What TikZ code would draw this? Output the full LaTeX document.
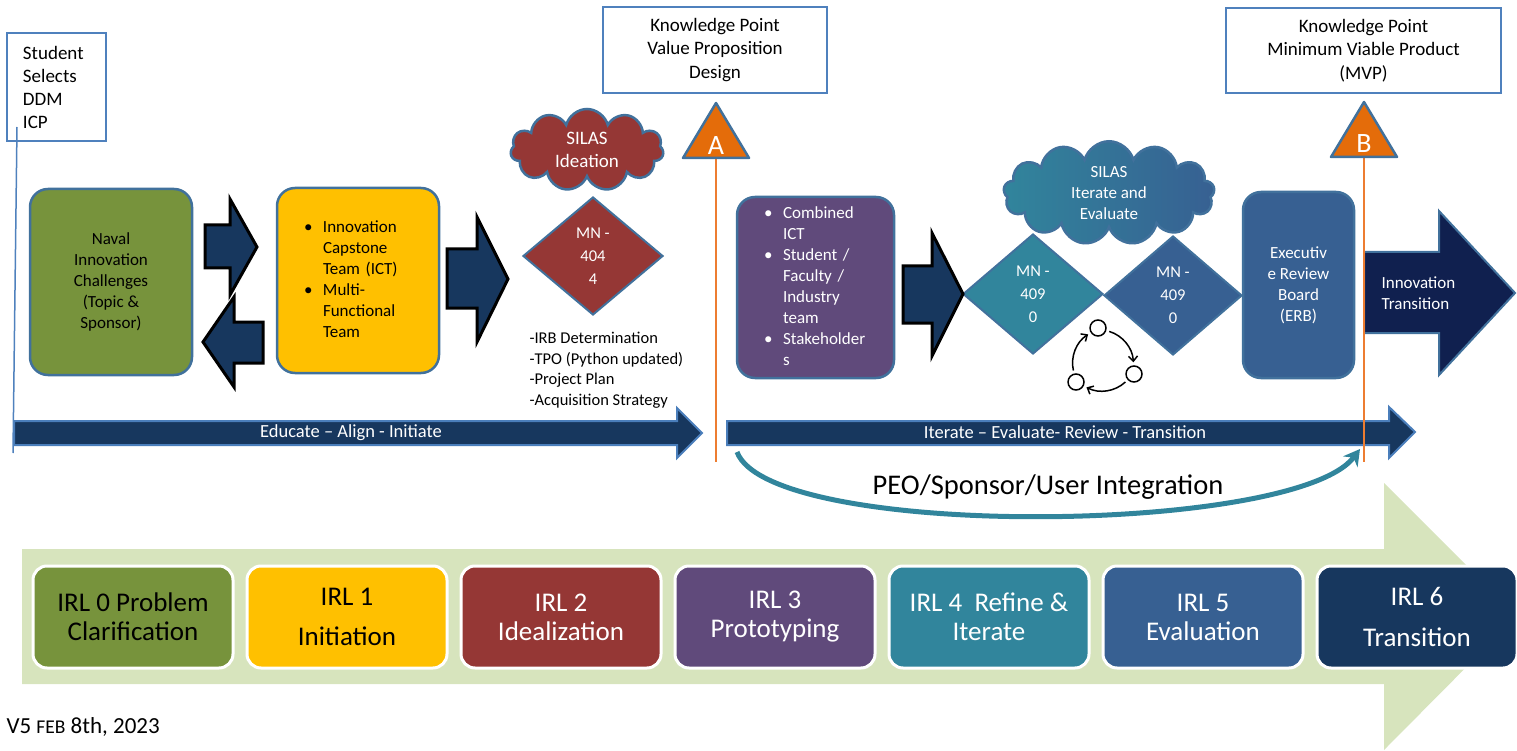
\documentclass[tikz,border=0pt]{standalone}
\usepackage{fontspec}
\setmainfont{Carlito}
\usetikzlibrary{shapes.geometric,shapes.symbols,arrows.meta}

\begin{document}
\begin{tikzpicture}[x=1pt,y=-1pt,
  rbox/.style={rectangle,rounded corners=18,draw=boxline,line width=2.5},
  kpbox/.style={rectangle,draw=kpline,line width=1.5,align=center,font=\fontsize{19}{23.5}\selectfont},
  mn/.style={diamond,draw=boxline,line width=2,inner sep=0,text=white,align=center,font=\fontsize{16.5}{23}\selectfont},
  blockarr/.style={fill=irlnavy,draw=black,line width=3,line join=miter},
  bandarr/.style={fill=irlnavy,draw=bandline,line width=2},
  irl/.style={rectangle,rounded corners=14,draw=white,line width=3,minimum width=200,minimum height=102,align=center,font=\fontsize{27}{29}\selectfont},
  txt/.style={font=\fontsize{17}{21}\selectfont},
  orangeline/.style={draw=lineorange,line width=2},
  cyc/.style={line width=1.5,shorten <=3,shorten >=3,-{Straight Barb[length=5pt,width=9pt]}}]
\definecolor{irlgreen}{HTML}{77933C}
\definecolor{irlyellow}{HTML}{FFC000}
\definecolor{irlred}{HTML}{953735}
\definecolor{irlpurple}{HTML}{604A7B}
\definecolor{irlteal}{HTML}{31859C}
\definecolor{irlblue}{HTML}{376092}
\definecolor{irlnavy}{HTML}{17375E}
\definecolor{deepnavy}{HTML}{10204F}
\definecolor{boxline}{HTML}{41719C}
\definecolor{kpline}{HTML}{4F81BD}
\definecolor{bandline}{HTML}{4A7EBB}
\definecolor{kporange}{HTML}{E46C0A}
\definecolor{lineorange}{HTML}{ED7D31}
\definecolor{irlband}{HTML}{D7E4BD}
\useasboundingbox (0,0) rectangle (1517,751);

% top row
\node[rectangle,draw=kpline,line width=1.5,minimum width=99,minimum height=108,text width=67,inner xsep=16,align=left,font=\fontsize{19}{23}\selectfont] (stu) at (56.5,87) {Student\\Selects\\DDM\\ICP};
\node[kpbox,minimum width=224,minimum height=86] (kpA) at (715,50) {Knowledge Point\\Value Proposition\\Design};
\node[kpbox,minimum width=275,minimum height=85] (kpB) at (1363.5,50.5) {Knowledge Point\\Minimum Viable Product\\(MVP)};

% main boxes
\node[rbox,txt,fill=irlgreen,minimum width=162,minimum height=186,align=center] (naval) at (111,282) {Naval\\Innovation\\Challenges\\(Topic \&\\Sponsor)};
\node[rbox,txt,fill=irlyellow,minimum width=162,minimum height=185,text width=108,inner xsep=27] (ict) at (358,280.5) {\begin{tabular}{@{}p{12pt}@{\hspace{7pt}}l@{}}
\textbullet & Innovation\\ & Capstone\\ & Team (ICT)\\
\textbullet & Multi-\\ & Functional\\ & Team\end{tabular}};
\node[rbox,txt,fill=irlpurple,text=white,minimum width=157,minimum height=181,text width=103,inner xsep=27] (team) at (815.5,287.5) {\begin{tabular}{@{}p{12pt}@{\hspace{7pt}}l@{}}
\textbullet & Combined\\ & ICT\\
\textbullet & Student /\\ & Faculty /\\ & Industry\\ & team\\
\textbullet & Stakeholder\\ & s\end{tabular}};
\node[rbox,txt,fill=irlblue,text=white,minimum width=111,minimum height=186,align=center] (erb) at (1298.5,285) {Executiv\\e Review\\Board\\(ERB)};

% clouds and diamonds
\node[cloud,cloud puffs=11,cloud ignores aspect,fill=irlred,draw=boxline,line width=2.5,minimum width=153,minimum height=82,text=white,align=center,font=\fontsize{19}{23}\selectfont] (silasA) at (587,150) {SILAS\\Ideation};
\node[cloud,cloud puffs=13,cloud ignores aspect,left color=irlteal,right color=irlblue,draw=boxline,line width=2.5,minimum width=211,minimum height=95,text=white,align=center,txt] (silasB) at (1109,193) {SILAS\\Iterate and\\Evaluate};
\node[mn,fill=irlred,minimum width=140,minimum height=118] (mnA) at (593,256) {MN -\\404\\4};
\node[mn,fill=irlteal,minimum width=140,minimum height=120] (mnB) at (1033,294) {MN -\\409\\0};
\node[mn,fill=irlblue,minimum width=138,minimum height=119] (mnC) at (1173,295.5) {MN -\\409\\0};
\node[anchor=west,align=left,font=\fontsize{16.5}{20.5}\selectfont] (tasks) at (526,370) {-IRB Determination\\-TPO (Python updated)\\-Project Plan\\-Acquisition Strategy};

% block arrows
\filldraw[blockarr] (205,225) -- (230,225) -- (230,199) -- (257,247) -- (230,295) -- (230,268) -- (205,268) -- cycle;
\filldraw[blockarr] (263,322) -- (234,322) -- (234,297) -- (203,342) -- (234,387) -- (234,363) -- (263,363) -- cycle;
\filldraw[blockarr] (447,249) -- (477,249) -- (477,217) -- (508,279) -- (477,342) -- (477,308) -- (447,308) -- cycle;
\filldraw[blockarr] (903,266) -- (932,266) -- (932,233) -- (963,294) -- (932,356) -- (932,323) -- (903,323) -- cycle;
\filldraw[fill=deepnavy,draw=boxline,line width=2] (1364,252) -- (1439,252) -- (1439,211) -- (1515,293) -- (1439,375) -- (1439,333) -- (1364,333) -- cycle;
\node[anchor=west,align=left,text=white,txt] (innov) at (1378,293.5) {Innovation\\Transition};

% cycle icon
\node[circle,draw,line width=1.5,minimum size=16,inner sep=0] (c1) at (1098,328) {};
\node[circle,draw,line width=1.5,minimum size=16,inner sep=0] (c2) at (1134,374) {};
\node[circle,draw,line width=1.5,minimum size=16,inner sep=0] (c3) at (1076,382) {};
\draw[cyc] (c1) to[bend left=35] (c2);
\draw[cyc] (c2) to[bend left=35] (c3);
\draw[cyc] (c3) to[bend left=35] (c1);

% integration arc
\coordinate (peoStart) at (737,452);
\coordinate (peoEnd) at (1360,449);
\draw[draw=irlteal,line width=5,-{Stealth[length=16pt,width=18pt]}] (peoStart) .. controls (770,540) and (1295,535) .. (peoEnd);
\node[font=\fontsize{28.5}{30}\selectfont] (peo) at (1048,487) {PEO/Sponsor/User Integration};

% timeline arrows
\filldraw[bandarr] (14,421) -- (677,421) -- (677,408) -- (702,433) -- (677,458) -- (677,445) -- (14,445) -- cycle;
\filldraw[bandarr] (727,421) -- (1389,421) -- (1389,407) -- (1415,432) -- (1389,458) -- (1389,445) -- (727,445) -- cycle;
\node[text=white,font=\fontsize{18.5}{20}\selectfont] (educ) at (351,433) {Educate -- Align - Initiate};
\node[text=white,font=\fontsize{18.5}{20}\selectfont] (iter) at (1065,432) {Iterate -- Evaluate- Review - Transition};

% knowledge points
\coordinate (stuFoot) at (17,127);
\coordinate (stuEnd) at (13,453);
\draw[draw=kpline,line width=1.5] (stuFoot) -- (stuEnd);
\coordinate (triAbase) at (716,158);
\coordinate (kpAfoot) at (716,462);
\coordinate (triBbase) at (1364,157);
\coordinate (kpBfoot) at (1364,462);
\draw[orangeline] (triAbase) -- (kpAfoot);
\draw[orangeline] (triBbase) -- (kpBfoot);
\filldraw[fill=kporange,draw=boxline,line width=2.5,line join=round] (683,158) -- (716,103) -- (749,158) -- cycle;
\filldraw[fill=kporange,draw=boxline,line width=2.5,line join=round] (1331,157) -- (1364,102) -- (1397,157) -- cycle;
\node[text=white,font=\fontsize{28}{28}\selectfont] (triA) at (716,146) {A};
\node[text=white,font=\fontsize{28}{28}\selectfont] (triB) at (1364,144) {B};

% readiness levels
\fill[irlband] (22,549) -- (1384,549) -- (1384,483) -- (1517,616) -- (1384,750) -- (1384,684) -- (22,684) -- cycle;
\foreach \crlr/\tcol/\pos/\txt in {irlgreen/black/0/{IRL 0 Problem\\Clarification},
  irlyellow/black/1/{IRL 1\\[11pt]Initiation},
  irlred/white/2/{IRL 2\\Idealization},
  irlpurple/white/3/{IRL 3\\Prototyping},
  irlteal/white/4/{IRL 4\ \ Refine \&\\Iterate},
  irlblue/white/5/{IRL 5\\Evaluation},
  irlnavy/white/6/{IRL 6\\[12pt]Transition}}
  {  \node[irl,fill=\crlr,text=\tcol] (irl\pos) at (133+214*\pos,617) {\txt};}

\node[anchor=west] (ver) at (3,727) {\fontsize{23}{26}\selectfont V5 {\fontsize{19.5}{22}\selectfont FEB} 8th, 2023};
\end{tikzpicture}
\end{document}
